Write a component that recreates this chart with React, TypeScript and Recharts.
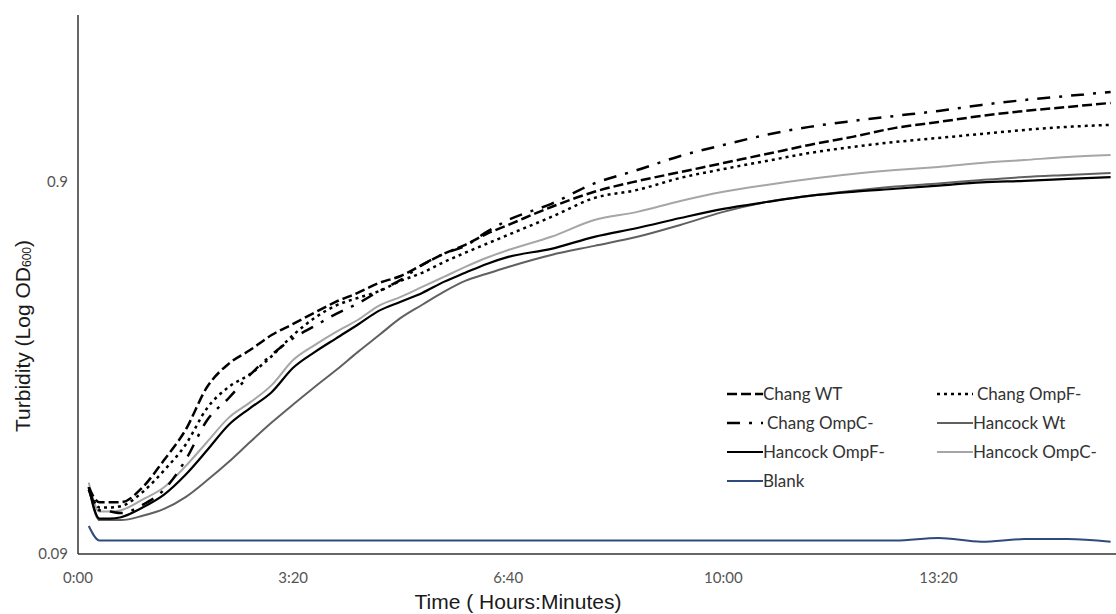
import React from 'react';
import { LineChart, Line, XAxis, YAxis, Label } from 'recharts';

// sample times in minutes from start
const times = [10, 20, 30, 40, 60, 80, 100, 120, 140, 160, 180, 200, 220, 240, 260, 280, 300, 320, 340, 360, 380, 400, 440, 480, 520, 560, 600, 640, 680, 720, 760, 800, 840, 880, 920, 960];

const changWt = [0.136, 0.124, 0.124, 0.124, 0.136, 0.161, 0.194, 0.253, 0.292, 0.318, 0.349, 0.374, 0.401, 0.429, 0.453, 0.482, 0.503, 0.539, 0.577, 0.61, 0.653, 0.69, 0.771, 0.847, 0.905, 0.957, 1.012, 1.07, 1.132, 1.19, 1.258, 1.305, 1.355, 1.397, 1.432, 1.468];
const changOmpF = [0.136, 0.12, 0.12, 0.121, 0.132, 0.151, 0.177, 0.222, 0.253, 0.274, 0.306, 0.349, 0.388, 0.419, 0.439, 0.458, 0.488, 0.513, 0.548, 0.581, 0.614, 0.649, 0.725, 0.815, 0.857, 0.923, 0.975, 1.025, 1.077, 1.118, 1.153, 1.182, 1.212, 1.242, 1.266, 1.282];
const changOmpC = [0.134, 0.118, 0.117, 0.116, 0.122, 0.134, 0.161, 0.206, 0.236, 0.273, 0.309, 0.342, 0.369, 0.398, 0.424, 0.458, 0.491, 0.539, 0.577, 0.606, 0.661, 0.711, 0.786, 0.892, 0.969, 1.057, 1.132, 1.205, 1.266, 1.313, 1.355, 1.397, 1.45, 1.495, 1.533, 1.572];
const hancockWt = [0.136, 0.111, 0.111, 0.111, 0.114, 0.119, 0.128, 0.142, 0.159, 0.18, 0.203, 0.227, 0.253, 0.281, 0.314, 0.349, 0.388, 0.421, 0.456, 0.488, 0.51, 0.532, 0.573, 0.606, 0.641, 0.69, 0.748, 0.795, 0.826, 0.852, 0.875, 0.892, 0.911, 0.928, 0.94, 0.952];
const hancockOmpF = [0.136, 0.112, 0.112, 0.113, 0.12, 0.13, 0.147, 0.171, 0.2, 0.222, 0.245, 0.285, 0.314, 0.342, 0.372, 0.406, 0.429, 0.453, 0.485, 0.513, 0.542, 0.566, 0.595, 0.641, 0.677, 0.72, 0.762, 0.795, 0.826, 0.847, 0.863, 0.88, 0.898, 0.906, 0.917, 0.928];
const hancockOmpC = [0.14, 0.117, 0.117, 0.118, 0.126, 0.136, 0.155, 0.18, 0.209, 0.23, 0.256, 0.299, 0.328, 0.356, 0.383, 0.419, 0.442, 0.47, 0.5, 0.532, 0.563, 0.591, 0.641, 0.711, 0.748, 0.8, 0.847, 0.884, 0.917, 0.946, 0.969, 0.988, 1.012, 1.031, 1.051, 1.064];
const blank = [0.107, 0.0978, 0.0978, 0.0978, 0.0978, 0.0978, 0.0978, 0.0978, 0.0978, 0.0978, 0.0978, 0.0978, 0.0978, 0.0978, 0.0978, 0.0978, 0.0978, 0.0978, 0.0978, 0.0978, 0.0978, 0.0978, 0.0978, 0.0978, 0.0978, 0.0978, 0.0978, 0.0978, 0.0978, 0.0978, 0.0978, 0.0994, 0.0971, 0.0987, 0.0987, 0.0971];

const xTicks = [0, 200, 400, 600, 800];
const yTicks = [0.09, 0.9];

const data = times.map((t, i) => ({
  t,
  changWt: changWt[i],
  changOmpF: changOmpF[i],
  changOmpC: changOmpC[i],
  hancockWt: hancockWt[i],
  hancockOmpF: hancockOmpF[i],
  hancockOmpC: hancockOmpC[i],
  blank: blank[i],
}));

const series = [
  { key: 'hancockOmpC', name: 'Hancock OmpC-', color: '#a6a6a6', width: 2, dash: undefined },
  { key: 'hancockWt', name: 'Hancock Wt', color: '#606060', width: 2, dash: undefined },
  { key: 'hancockOmpF', name: 'Hancock OmpF-', color: '#000000', width: 2.2, dash: undefined },
  { key: 'changOmpF', name: 'Chang OmpF-', color: '#000000', width: 2.5, dash: '3 4' },
  { key: 'changWt', name: 'Chang WT', color: '#000000', width: 2.5, dash: '10 4' },
  { key: 'changOmpC', name: 'Chang OmpC-', color: '#000000', width: 2.5, dash: '13 9 3 9' },
  { key: 'blank', name: 'Blank', color: '#2f4a7c', width: 2, dash: undefined },
];

const legendOrder = ['changWt', 'changOmpF', 'changOmpC', 'hancockWt', 'hancockOmpF', 'hancockOmpC', 'blank'];

const fmtTime = (m: number) => `${Math.floor(m / 60)}:${String(m % 60).padStart(2, '0')}`;

const App: React.FC = () => {
  return (
    <div style={{ position: 'absolute', left: 0, top: 0, width: 1116, height: 614, background: '#fff' }}>
      <LineChart width={1116} height={614} data={data} margin={{ top: 15, right: 0, bottom: 30, left: 0 }}>
        <XAxis
          dataKey="t"
          type="number"
          domain={[0, 965]}
          ticks={xTicks}
          interval={0}
          allowDataOverflow
          tickFormatter={fmtTime}
          tickLine={false}
          tickMargin={12}
          height={30}
          axisLine={{ stroke: '#333', strokeWidth: 1.5 }}
          tick={{ fontSize: 15, fill: '#555', fontFamily: 'Lato, sans-serif' }}
        >
          <Label
            content={() => (
              <text x={518} y={601} textAnchor="middle" dominantBaseline="central" fontFamily="'Liberation Sans', Arial, sans-serif" fontSize={21} fill="#1a1a1a">
                Time ( Hours:Minutes)
              </text>
            )}
          />
        </XAxis>
        <YAxis
          type="number"
          scale="log"
          domain={[0.09, 2.53]}
          ticks={yTicks}
          allowDataOverflow
          width={78}
          tickLine={false}
          tickMargin={4}
          tickFormatter={(v: number) => String(v)}
          axisLine={{ stroke: '#333', strokeWidth: 1.5 }}
          tick={{ fontSize: 15, fill: '#555', fontFamily: 'Lato, sans-serif' }}
        >
          <Label
            content={() => (
              <text x={22} y={336} transform="rotate(-90 22 336)" textAnchor="middle" dominantBaseline="central" fontFamily="'Liberation Sans', Arial, sans-serif" fontSize={21} fill="#1a1a1a">
                Turbidity (Log OD<tspan fontSize={12} dy={5}>600</tspan><tspan dy={-5}>)</tspan>
              </text>
            )}
          />
        </YAxis>
        {series.map(s => (
          <Line
            key={s.key}
            dataKey={s.key}
            name={s.name}
            type="monotone"
            stroke={s.color}
            strokeWidth={s.width}
            strokeDasharray={s.dash}
            dot={false}
            isAnimationActive={false}
          />
        ))}
      </LineChart>
      <div
        style={{
          position: 'absolute',
          left: 727,
          top: 379,
          display: 'grid',
          gridTemplateColumns: '210px 190px',
          gridAutoRows: '29px',
          fontFamily: 'Lato, sans-serif',
          fontSize: 17,
          color: '#333',
        }}
      >
        {legendOrder.map(k => {
          const s = series.find(x => x.key === k)!;
          return (
            <div key={k} style={{ display: 'flex', alignItems: 'center' }}>
              <svg width={36} height={12} style={{ flexShrink: 0 }}>
                <line x1={0} y1={6} x2={36} y2={6} stroke={s.color} strokeWidth={s.width} strokeDasharray={s.dash} />
              </svg>
              <span style={{ marginLeft: s.dash === '3 4' || s.dash === '13 9 3 9' ? 4 : 0 }}>{s.name}</span>
            </div>
          );
        })}
      </div>
    </div>
  );
};

export default App;
